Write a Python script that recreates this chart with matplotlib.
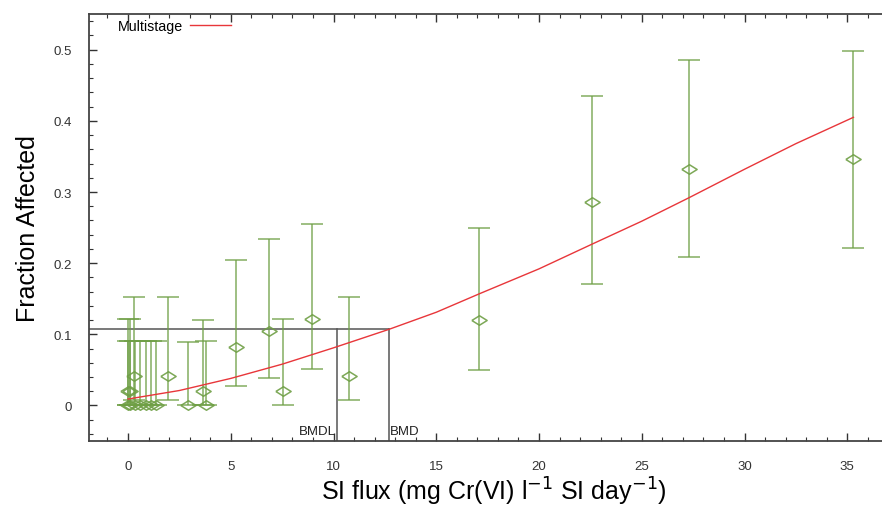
import matplotlib
matplotlib.use("Agg")
import numpy as np
import matplotlib.pyplot as plt
from matplotlib.ticker import MultipleLocator

plt.rcParams['font.family'] = ['Liberation Sans', 'DejaVu Sans']

# observed dose groups: dose, fraction affected, lower / upper confidence limits
dose = [0.0, 0.1, 0.35, 0.6, 0.85, 1.1, 1.35, 0.0, 0.1, 0.3,
        1.96, 2.93, 3.63, 3.79, 5.25, 6.86, 7.52, 8.93, 10.77,
        17.1, 22.57, 27.3, 35.3]
frac = [0.0, 0.0, 0.0, 0.0, 0.0, 0.0, 0.0, 0.02, 0.02, 0.041,
        0.041, 0.0, 0.02, 0.0, 0.082, 0.104, 0.02, 0.122, 0.041,
        0.12, 0.286, 0.333, 0.347]
lower = [0.0, 0.0, 0.0, 0.0, 0.0, 0.0, 0.0, 0.0, 0.0, 0.007,
         0.007, 0.0, 0.0, 0.0, 0.027, 0.039, 0.0, 0.051, 0.007,
         0.05, 0.17, 0.208, 0.221]
upper = [0.09, 0.09, 0.09, 0.09, 0.09, 0.09, 0.09, 0.121, 0.121, 0.152,
         0.152, 0.089, 0.12, 0.09, 0.205, 0.234, 0.122, 0.255, 0.152,
         0.25, 0.435, 0.486, 0.498]

# multistage model curve
curve_x = [0, 2.5, 5, 7.5, 10, 12.7, 15, 17.1, 20, 22.6, 25, 27.3, 30, 32.5, 35.3]
curve_y = [0.009, 0.021, 0.038, 0.058, 0.081, 0.107, 0.131, 0.157, 0.192,
           0.227, 0.259, 0.292, 0.332, 0.368, 0.405]

bmr = 0.107
bmdl = 10.18
bmd = 12.71

green = '#6f9f45'

fig = plt.figure(figsize=(8.82, 5.10), dpi=100)
ax = fig.add_axes([0.1009, 0.1333, 0.918, 0.837])

frac_a = np.array(frac)
yerr = [frac_a - np.array(lower), np.array(upper) - frac_a]
diamond = [(-1, 0), (0, 0.62), (1, 0), (0, -0.62), (-1, 0)]
ax.errorbar(dose, frac, yerr=yerr, fmt='none', ecolor=green, elinewidth=1.1,
            capsize=8, capthick=1.1, alpha=0.85, zorder=2)
ax.plot(dose, frac, linestyle='none', marker=diamond, markersize=11,
        markerfacecolor='none', markeredgecolor=green, markeredgewidth=1.1,
        alpha=0.9, zorder=3)

line, = ax.plot(curve_x, curve_y, color='#e8363a', linewidth=1.0, zorder=4,
                label='Multistage')

# BMD / BMDL lines
ax.plot([-1.9, bmd], [bmr, bmr], color='#555555', linewidth=1.1, zorder=1)
ax.plot([bmdl, bmdl], [-0.05, bmr], color='#555555', linewidth=1.1, zorder=1)
ax.plot([bmd, bmd], [-0.05, bmr], color='#555555', linewidth=1.1, zorder=1)
ax.text(bmdl - 0.05, -0.045, 'BMDL', ha='right', va='bottom', fontsize=9.5,
        color='#222222')
ax.text(bmd + 0.05, -0.045, 'BMD', ha='left', va='bottom', fontsize=9.5,
        color='#222222')

ax.set_xlim(-1.9, 37.5)
ax.set_ylim(-0.05, 0.55)
ax.xaxis.set_minor_locator(MultipleLocator(1))
ax.yaxis.set_minor_locator(MultipleLocator(0.02))
ax.set_xticks([0, 5, 10, 15, 20, 25, 30, 35])
ax.set_xticklabels(['0', '5', '10', '15', '20', '25', '30', '35'])
ax.set_yticks([0, 0.1, 0.2, 0.3, 0.4, 0.5])
ax.set_yticklabels(['0', '0.1', '0.2', '0.3', '0.4', '0.5'])
ax.tick_params(which='both', direction='in', top=True, right=True,
               colors='#333333', labelsize=9.5)
ax.tick_params(which='major', length=6, width=1)
ax.tick_params(which='minor', length=3, width=0.8)
ax.tick_params(axis='x', pad=14)
ax.tick_params(axis='y', pad=12)
for s in ax.spines.values():
    s.set_color('#444444')
    s.set_linewidth(1.3)

ax.set_xlabel(r'SI flux (mg Cr(VI) l$^{-1}$ SI day$^{-1}$)', fontsize=18,
              labelpad=2)
ax.set_ylabel('Fraction Affected', fontsize=18, labelpad=10)

ax.legend(handles=[line], loc='upper left', bbox_to_anchor=(0.02, 1.018),
          frameon=False, markerfirst=False, fontsize=10.3, handlelength=2.8,
          handletextpad=0.5)

fig.savefig('out.png', dpi=100)
